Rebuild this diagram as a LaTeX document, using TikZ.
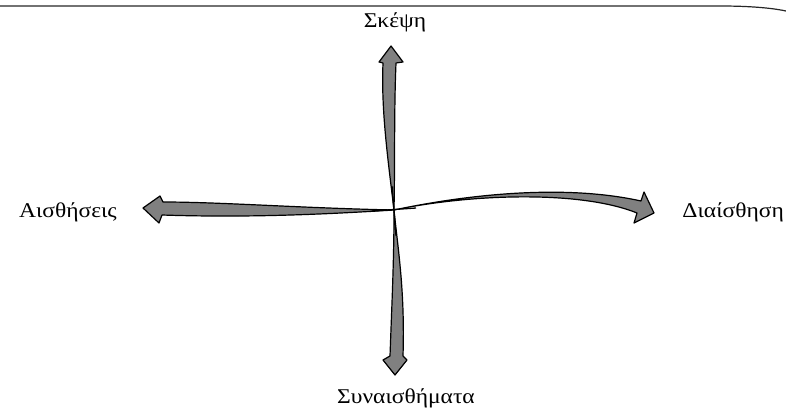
\documentclass[tikz,border=0pt]{standalone}
\usepackage{fontspec}
\setmainfont{Liberation Serif}[FakeStretch=1.12]
\begin{document}
\begin{tikzpicture}[x=1pt,y=-1pt,
  arrowshape/.style={fill=black!50, draw=black, line width=1.2pt, line join=round},
  lbl/.style={font=\fontsize{21}{24}\selectfont, inner sep=0pt}]
\useasboundingbox (0,0) rectangle (786,409);
\coordinate (c) at (394,210);
% top border
\draw[line width=1.2pt, black!85] (0,6) -- (720,6) .. controls (750,6) and (772,8) .. (786,11);
% labels
\node[lbl, anchor=base] (think) at (395,28) {Σκέψη};
\node[lbl, anchor=base east] (sens) at (117,217) {Αισθήσεις};
\node[lbl, anchor=base east] (intu) at (784,217) {Διαίσθηση};
\node[lbl, anchor=base] (feel) at (406,403) {Συναισθήματα};
% up arrow
\draw[arrowshape] (c) .. controls (388,160) and (381,110) .. (383,63)
  -- (379,62) -- (391,46) -- (403,62) -- (396,63)
  .. controls (394,110) and (395,160) .. (c) -- cycle;
% down arrow
\draw[arrowshape] (c) .. controls (398,250) and (405,290) .. (403,356)
  -- (407,360) -- (395,375) -- (383,360) -- (390,356)
  .. controls (392,300) and (394,260) .. (c) -- cycle;
% left arrow
\draw[arrowshape] (c) .. controls (300,208) and (220,202) .. (163,202)
  -- (160,196) -- (143,208) -- (159,223) -- (162,215)
  .. controls (250,218) and (330,214) .. (c) -- cycle;
% right arrow
\draw[arrowshape] (c) .. controls (460,196) and (560,183) .. (641,201)
  -- (644,192) -- (654,213) -- (634,223) -- (637,213)
  .. controls (580,190) and (470,194) .. (c) -- cycle;
% thin cross lines through centre
\draw[line width=1.3pt] (392,186) -- (396,236);
\draw[line width=1.3pt] (372,211) -- (416,208);
\end{tikzpicture}
\end{document}
